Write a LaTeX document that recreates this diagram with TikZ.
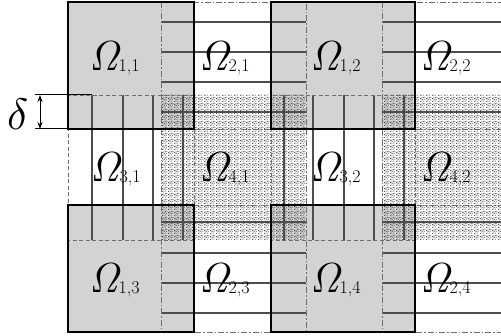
\documentclass[tikz,border=0pt]{standalone}
\usepackage{amsmath}
\usepackage{graphicx}
\usetikzlibrary{patterns,arrows.meta}
\pgfdeclarepatternformonly{stipple}{\pgfqpoint{0pt}{0pt}}{\pgfqpoint{6pt}{6pt}}{\pgfqpoint{6pt}{6pt}}{%
\pgfpathcircle{\pgfqpoint{0.5pt}{0.7pt}}{0.5pt}%
\pgfpathcircle{\pgfqpoint{2.3pt}{0.2pt}}{0.5pt}%
\pgfpathcircle{\pgfqpoint{4.1pt}{1.1pt}}{0.5pt}%
\pgfpathcircle{\pgfqpoint{1.4pt}{2.3pt}}{0.5pt}%
\pgfpathcircle{\pgfqpoint{3.2pt}{3.0pt}}{0.5pt}%
\pgfpathcircle{\pgfqpoint{5.2pt}{2.6pt}}{0.5pt}%
\pgfpathcircle{\pgfqpoint{0.3pt}{4.3pt}}{0.5pt}%
\pgfpathcircle{\pgfqpoint{2.2pt}{4.8pt}}{0.5pt}%
\pgfpathcircle{\pgfqpoint{4.4pt}{4.6pt}}{0.5pt}%
\pgfpathcircle{\pgfqpoint{5.6pt}{5.5pt}}{0.5pt}%
\pgfpathcircle{\pgfqpoint{3.6pt}{5.7pt}}{0.5pt}%
\pgfpathcircle{\pgfqpoint{1.0pt}{3.6pt}}{0.5pt}%
\pgfusepath{fill}}
\definecolor{lgray}{HTML}{D3D3D3}
\definecolor{hatchc}{HTML}{4D4D4D}
\definecolor{bordc}{HTML}{6E6E6E}
\newcommand{\omlab}[1]{{\fontsize{42}{42}\selectfont\itshape Ω}\raisebox{-1pt}{\fontsize{18}{18}\selectfont #1}}
\begin{document}
\begin{tikzpicture}[x=1pt,y=-1pt,
  bdone/.style={draw=black,line width=1.1pt},
  bdtwo/.style={draw=bordc,line width=0.8pt,dash pattern=on 6pt off 2pt on 1.5pt off 2pt},
  bdthree/.style={draw=bordc,line width=0.8pt,dash pattern=on 4pt off 2.5pt},
  stfour/.style={pattern=stipple,pattern color=black!85},
  hl/.style={draw=hatchc,line width=1.4pt},
  lab/.style={anchor=base west,inner sep=0pt}]
\useasboundingbox (0,0) rectangle (501,336);
\begin{scope}
\clip (66,0) rectangle (501,334);
% Omega_1 gray squares
\foreach \xa/\xb in {68/194,271/415} \foreach \ya/\yb in {2/129,205/332}
  \fill[lgray] (\xa,\ya) rectangle (\xb,\yb);
% Omega_4 stipple
\fill[stfour] (161,95) rectangle (306,240);
\fill[stfour] (382,95) rectangle (540,240);
% Omega_2 hatching
\foreach \y in {22,52,82,112,222,253,283,313} {
  \draw[hl] (161,\y) -- (306,\y);
  \draw[hl] (382,\y) -- (540,\y);
}
% Omega_3 hatching
\foreach \x in {92,123,153,183,284,313,344,374,404}
  \draw[hl] (\x,95) -- (\x,240);
% Omega_3 borders
\draw[bdthree] (68,95) rectangle (194,240);
\draw[bdthree] (271,95) rectangle (415,240);
% Omega_2 / Omega_4 borders
\foreach \xa/\xb in {161/306,382/540} {
  \draw[bdtwo] (\xa,2) rectangle (\xb,129);
  \draw[bdtwo] (\xa,205) rectangle (\xb,332);
  \draw[bdtwo] (\xa,129) -- (\xa,205);
  \draw[bdtwo] (\xb,129) -- (\xb,205);
}
% Omega_1 borders
\foreach \xa/\xb in {68/194,271/415} \foreach \ya/\yb in {2/129,205/332}
  \draw[bdone] (\xa,\ya) rectangle (\xb,\yb);
\end{scope}
% labels
\node[lab] (l11) at (89,71) {\omlab{1,1}};
\node[lab] (l21) at (199,71) {\omlab{2,1}};
\node[lab] (l12) at (310,71) {\omlab{1,2}};
\node[lab] (l22) at (420,71) {\omlab{2,2}};
\node[lab] (l31) at (90,182) {\omlab{3,1}};
\node[lab] (l41) at (199,182) {\omlab{4,1}};
\node[lab] (l32) at (310,182) {\omlab{3,2}};
\node[lab] (l42) at (420,182) {\omlab{4,2}};
\node[lab] (l13) at (89,293) {\omlab{1,3}};
\node[lab] (l23) at (199,293) {\omlab{2,3}};
\node[lab] (l14) at (310,293) {\omlab{1,4}};
\node[lab] (l24) at (420,293) {\omlab{2,4}};
% delta dimension
\node[lab] (delta) at (7,130) {\scalebox{4.4}{$\delta$}};
\coordinate (dt) at (40,95);
\coordinate (db) at (40,129);
\coordinate (tl) at (35,95);
\coordinate (tr) at (92,95);
\coordinate (bl) at (35,129);
\coordinate (br) at (68,129);
\draw[line width=1pt] (tl) -- (tr);
\draw[line width=1pt] (bl) -- (br);
\draw[line width=1pt,{Stealth[length=7pt,width=5pt]}-{Stealth[length=7pt,width=5pt]}] (dt) -- (db);
\end{tikzpicture}
\end{document}
